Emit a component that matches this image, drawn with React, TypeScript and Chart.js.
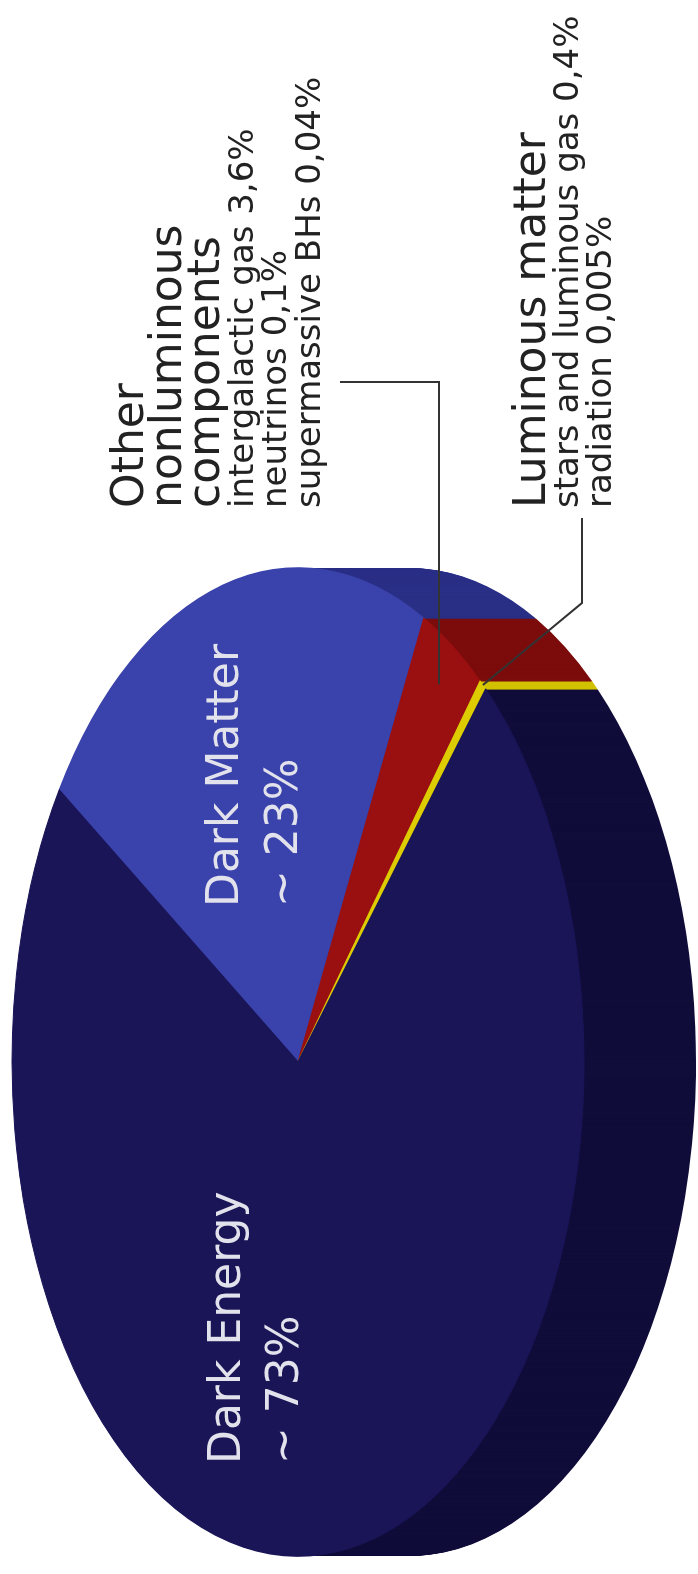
import React, { useEffect, useRef } from 'react';
import { Chart, registerables } from 'chart.js';

Chart.register(...registerables);

// ---- data ----
const categories = ['Dark Matter', 'Other nonluminous components', 'Luminous matter', 'Dark Energy'];
const darkMatterShare = 23;
const darkEnergyShare = 73;
const otherParts = ['intergalactic gas', 'neutrinos', 'supermassive BHs'];
const otherValues = [3.6, 0.1, 0.04];
const luminousParts = ['stars and luminous gas', 'radiation'];
const luminousValues = [0.4, 0.005];

const total = (a: number[]) => a.reduce((s, v) => s + v, 0);
const shares = [darkMatterShare, total(otherValues), total(luminousValues), darkEnergyShare];

// ---- styles ----
const topColors = ['#3a42ab', '#9a1010', '#ddcc00', '#1a1557'];
const sideColors = ['#2a2f86', '#7c0c0c', '#d2c200', '#110d3a'];

const W = 1574;
const H = 698;
const SX = 1.727; // horizontal stretch of the tilted pie
const DEPTH = 112;
const START_ROTATION = 33.4;

const fmt = (v: number) => `${String(v).replace('.', ',')}%`;

const pie3d = {
  id: 'pie3d',
  beforeDatasetsDraw(chart: any) {
    const ctx = chart.ctx as CanvasRenderingContext2D;
    const arcs = chart.getDatasetMeta(0).data as any[];
    const { x, y } = arcs[0];
    for (let d = DEPTH; d >= 1; d--) {
      arcs.forEach((arc, i) => {
        ctx.save();
        ctx.translate(x, y + d);
        ctx.scale(SX, 1);
        ctx.beginPath();
        ctx.moveTo(0, 0);
        ctx.arc(0, 0, arc.outerRadius, arc.startAngle, arc.endAngle);
        ctx.closePath();
        ctx.fillStyle = sideColors[i];
        ctx.fill();
        ctx.restore();
      });
    }
    ctx.save();
    ctx.translate(x, y);
    ctx.scale(SX, 1);
    ctx.translate(-x, -y);
  },
  afterDatasetsDraw(chart: any) {
    const ctx = chart.ctx as CanvasRenderingContext2D;
    ctx.restore();
    const arcs = chart.getDatasetMeta(0).data as any[];
    const pt = (arc: any, k: number) => {
      const a = (arc.startAngle + arc.endAngle) / 2;
      return [arc.x + Math.cos(a) * arc.outerRadius * k * SX, arc.y + Math.sin(a) * arc.outerRadius * k];
    };

    // leader lines
    ctx.save();
    ctx.strokeStyle = '#333333';
    ctx.lineWidth = 2;
    const [ox, oy] = pt(arcs[1], 0.91);
    ctx.beginPath();
    ctx.moveTo(ox, oy);
    ctx.lineTo(1192, oy);
    ctx.lineTo(1192, 340);
    ctx.stroke();
    const [lx, ly] = pt(arcs[2], 1.0);
    ctx.beginPath();
    ctx.moveTo(lx, ly);
    ctx.lineTo(971, 582);
    ctx.lineTo(1056, 582);
    ctx.stroke();
    ctx.restore();

    // labels
    ctx.save();
    ctx.textBaseline = 'alphabetic';
    ctx.textAlign = 'left';
    ctx.fillStyle = '#e2e2ec';
    ctx.font = '44px "DejaVu Sans"';
    ctx.fillText(categories[0], 667, 238);
    ctx.fillText(`~ ${darkMatterShare}%`, 667, 297);
    ctx.fillText(categories[3], 110, 240);
    ctx.fillText(`~ ${darkEnergyShare}%`, 110, 298);

    ctx.fillStyle = '#222222';
    ctx.font = '44px "DejaVu Sans"';
    const otherTitle = categories[1].split(' ');
    const bigBase = [143, 181, 219];
    otherTitle.forEach((t, i) => ctx.fillText(t, 1066, bigBase[i]));
    ctx.fillText(categories[2], 1066, 545);
    ctx.font = '34px "DejaVu Sans"';
    const otherBase = [253, 286, 320];
    otherParts.forEach((p, i) => ctx.fillText(`${p} ${fmt(otherValues[i])}`, 1066, otherBase[i]));
    const lumBase = [578, 611];
    luminousParts.forEach((p, i) => ctx.fillText(`${p} ${fmt(luminousValues[i])}`, 1066, lumBase[i]));
    ctx.restore();
  },
};

export default function App() {
  const ref = useRef<HTMLCanvasElement>(null);
  useEffect(() => {
    document.documentElement.style.overflow = 'hidden';
    document.body.style.overflow = 'hidden';
    document.body.style.margin = '0';
    const chart = new Chart(ref.current as HTMLCanvasElement, {
      type: 'pie',
      data: {
        labels: categories,
        datasets: [
          {
            data: shares,
            backgroundColor: topColors,
            borderColor: topColors,
            borderWidth: 1,
            hoverOffset: 0,
            clip: false as any,
          },
        ],
      },
      options: {
        responsive: false,
        animation: false,
        events: [],
        rotation: START_ROTATION,
        radius: 286,
        layout: { padding: { left: 12, right: 562, top: 12, bottom: 114 } },
        plugins: { legend: { display: false }, tooltip: { enabled: false } },
      } as any,
      plugins: [pie3d],
    });
    return () => chart.destroy();
  }, []);
  return (
    <div
      style={{
        position: 'absolute',
        left: 0,
        top: 0,
        width: W,
        height: H,
        transformOrigin: '0 0',
        transform: `translateY(${W}px) rotate(-90deg)`,
        background: '#ffffff',
      }}
    >
      <canvas ref={ref} width={W} height={H} style={{ display: 'block' }} />
    </div>
  );
}
